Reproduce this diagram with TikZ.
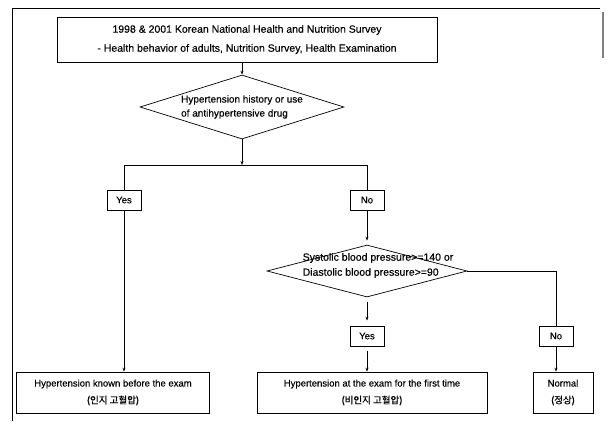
\documentclass[tikz,border=0pt]{standalone}
\usepackage{fontspec}
\setmainfont{Liberation Sans}[FakeBold=0.3]
\newfontfamily\krfont{Noto Sans CJK KR}[FakeBold=1]
\usetikzlibrary{arrows.meta,shapes.geometric}
\begin{document}
\begin{tikzpicture}[x=1pt,y=-1pt,
  line width=0.7pt,
  box/.style={draw, inner sep=0pt, align=center, font=\fontsize{9.5}{17}\selectfont},
  lbl/.style={draw, inner sep=0pt, minimum width=34pt, minimum height=20pt, font=\fontsize{9.5}{11}\selectfont},
  dia/.style={draw, diamond, inner sep=0pt},
  dtext/.style={align=left, inner sep=0pt, font=\fontsize{10}{14}\selectfont},
  arr/.style={-{Stealth[length=4pt,width=3pt]}}
]
\useasboundingbox (0,0) rectangle (608,421);
% frame
\draw (12,421) -- (12,8) -- (600,8);
\draw[gray, line width=2pt] (603,12) -- (603,58);

% top box
\node[box, minimum width=380pt, minimum height=45pt, font=\fontsize{10.5}{19}\selectfont] (top) at (247,39.5)
  {1998 \& 2001 Korean National Health and Nutrition Survey\\- Health behavior of adults, Nutrition Survey, Health Examination};

% first decision
\node[dia, minimum width=204pt, minimum height=64pt] (d1) at (242,107) {};
\node[dtext] (d1t) at (242,107) {Hypertension history or use\\of antihypertensive drug};

\coordinate (j) at (242,165);
\coordinate (hl) at (124,165);
\coordinate (hr) at (367,165);

\node[lbl] (yes1) at (124,200) {Yes};
\node[lbl] (no1) at (367,200) {No};

% second decision
\node[dia, minimum width=200pt, minimum height=52pt] (d2) at (367,271) {};
\node[dtext, font=\fontsize{10.5}{15}\selectfont] (d2t) at (378,265.5) {Systolic blood pressure>=140 or\\Diastolic blood pressure>=90};

\node[lbl] (yes2) at (367,336) {Yes};
\node[lbl] (no2) at (556,336) {No};

% outcomes
\node[box, minimum width=193pt, minimum height=41pt] (b1) at (113,392.5)
  {Hypertension known before the exam\\{\krfont (인지 고혈압)}};
\node[box, minimum width=230pt, minimum height=41pt] (b2) at (372,392.5)
  {Hypertension at the exam for the first time\\{\krfont (비인지 고혈압)}};
\node[box, minimum width=60pt, minimum height=41pt] (b3) at (563,392.5)
  {Normal\\{\krfont (정상)}};

% connectors
\draw[arr] (top.south -| d1.north) -- (d1.north);
\draw[arr] (d1.south) -- (j);
\draw (yes1.north) -- (hl) -- (hr) -- (no1.north);
\draw[arr] (yes1.south) -- (yes1.south |- b1.north);
\draw[arr, shorten >=4pt] (no1.south) -- (d2.north);
\draw[arr, shorten <=5pt, shorten >=5pt] (d2.south) -- (yes2.north);
\draw[arr, shorten <=5pt] (yes2.south) -- (yes2.south |- b2.north);
\draw (d2.east) -| (no2.north);
\draw[arr] (no2.south) -- (no2.south |- b3.north);
\end{tikzpicture}
\end{document}
